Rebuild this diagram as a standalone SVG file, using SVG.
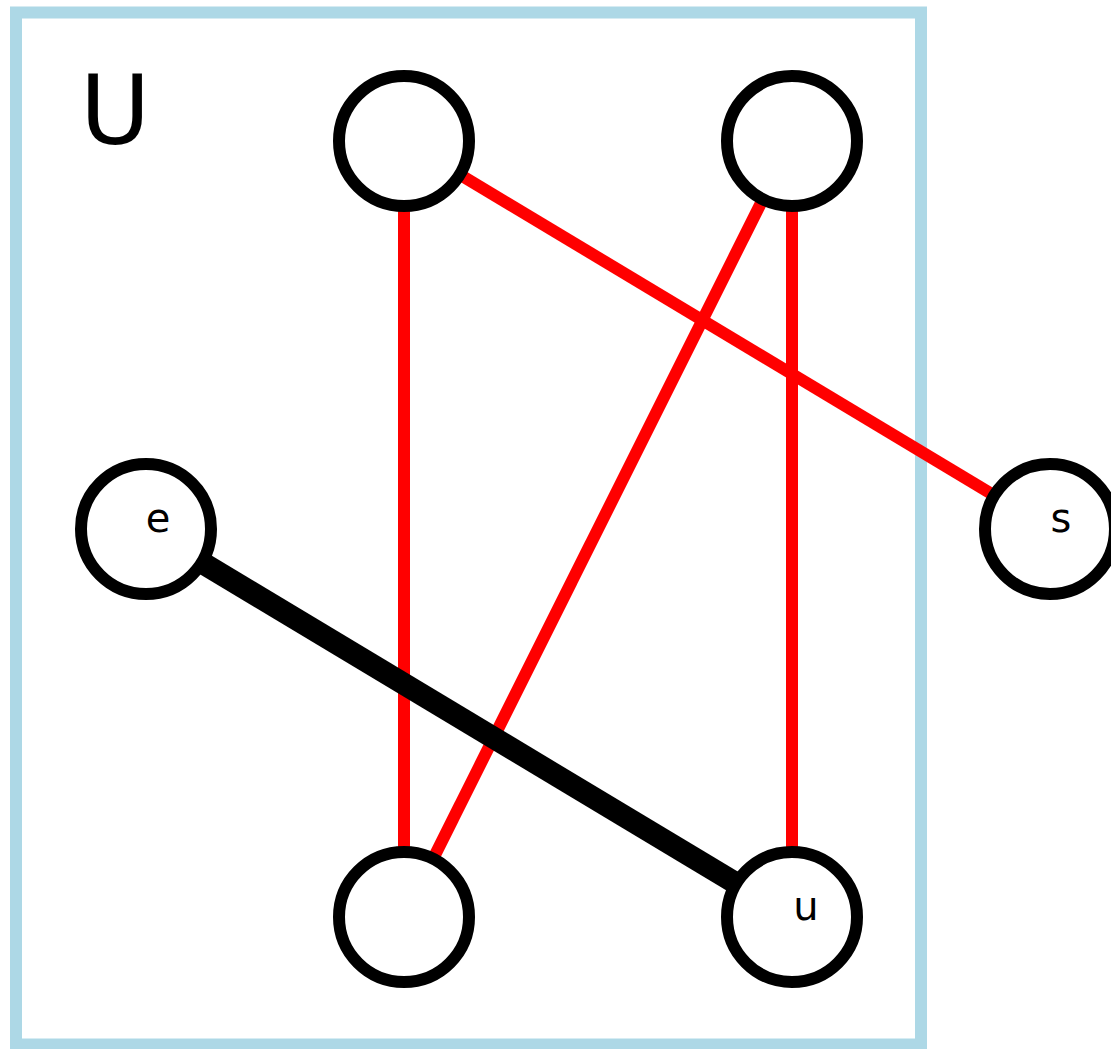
<svg xmlns="http://www.w3.org/2000/svg" width="1111" height="1049" viewBox="0 0 1111 1049">
<style>
.node circle{fill:#fff;stroke:#000;stroke-width:12}
.node text{font-family:"DejaVu Sans",sans-serif;font-size:40px;fill:#000;text-anchor:middle}
.red{stroke:#ff0000;stroke-width:12}
.black{stroke:#000;stroke-width:22}
</style>
<rect width="1111" height="1049" fill="#fff"/>
<g id="cluster-U">
<rect x="16" y="12.5" width="905" height="1032" fill="none" stroke="#add8e6" stroke-width="12"/>
<text x="80" y="144" font-family="DejaVu Sans, sans-serif" font-size="96">U</text>
</g>
<g id="edges">
<line class="red" x1="404" y1="141" x2="404" y2="917"/>
<line class="red" x1="404" y1="141" x2="1050" y2="529"/>
<line class="red" x1="792" y1="141" x2="404" y2="917"/>
<line class="red" x1="792" y1="141" x2="792" y2="917"/>
<line class="black" x1="146" y1="529" x2="792" y2="917"/>
</g>
<g id="n1" class="node"><circle cx="404" cy="141" r="65"/></g>
<g id="n2" class="node"><circle cx="792" cy="141" r="65"/></g>
<g id="e" class="node"><circle cx="146" cy="529" r="65"/><text x="158" y="532">e</text></g>
<g id="s" class="node"><circle cx="1050" cy="529" r="65"/><text x="1061" y="532">s</text></g>
<g id="n3" class="node"><circle cx="404" cy="917" r="65"/></g>
<g id="u" class="node"><circle cx="792" cy="917" r="65"/><text x="806" y="920">u</text></g>
</svg>
